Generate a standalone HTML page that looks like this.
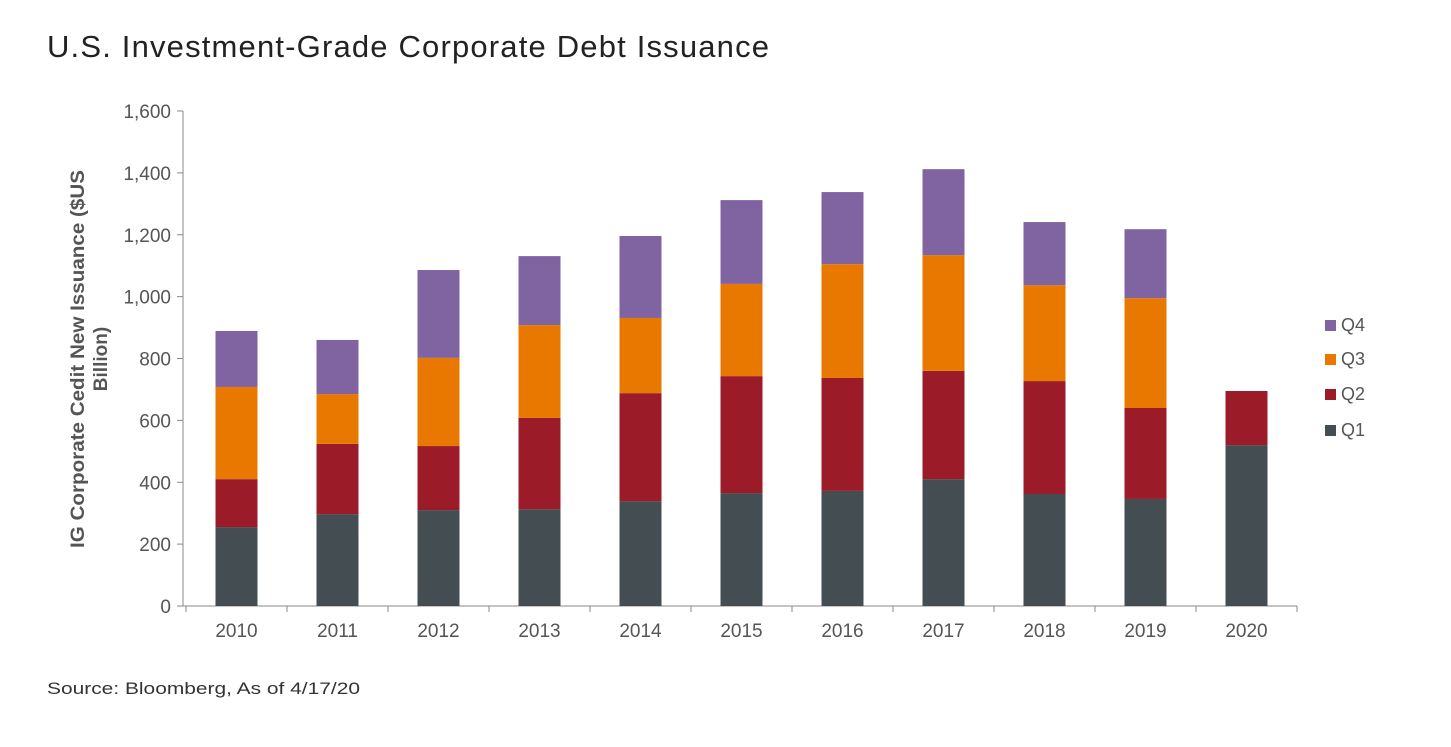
<!DOCTYPE html>
<html><head><meta charset="utf-8"><style>
body{margin:0;background:#fff;width:1451px;height:742px;overflow:hidden;font-family:"Liberation Sans",sans-serif}
</style></head><body>
<svg width="1451" height="742" xmlns="http://www.w3.org/2000/svg">
<text x="47" y="57" font-size="31" fill="#222" textLength="722" lengthAdjust="spacing">U.S. Investment-Grade Corporate Debt Issuance</text>
<text x="47" y="694" font-size="17" fill="#333" textLength="313" lengthAdjust="spacingAndGlyphs">Source: Bloomberg, As of 4/17/20</text>
<g id="plot"></g>
<g id="legend"></g>
</svg>
<script>
const years=["2010","2011","2012","2013","2014","2015","2016","2017","2018","2019","2020"];
const q1=[255,297,310,313,339,365,372,410,362,346,520];
const q2=[155,227,207,295,349,378,365,350,365,294,175];
const q3=[298,161,285,300,243,298,368,374,310,355,0];
const q4=[181,175,284,223,265,271,233,278,204,223,0];
const yTicks=[0,200,400,600,800,1000,1200,1400,1600];
const yTickLabels=["0","200","400","600","800","1,000","1,200","1,400","1,600"];
const series=[{name:"Q1",vals:q1,color:"#434d52"},{name:"Q2",vals:q2,color:"#9b1b28"},{name:"Q3",vals:q3,color:"#e87800"},{name:"Q4",vals:q4,color:"#8064a2"}];
const NS="http://www.w3.org/2000/svg";
const X0=186,X1=1297,Y0=606,Y1=111,YMAX=1600;
const band=(X1-X0)/years.length;
const y=v=>Y0-(v/YMAX)*(Y0-Y1);
const xc=i=>X0+band*(i+0.5);
const plot=document.getElementById('plot');
function mk(tag,attrs,parent){const e=document.createElementNS(NS,tag);for(const k in attrs)e.setAttribute(k,attrs[k]);parent.appendChild(e);return e;}
let ax=mk('line',{x1:X0-3,y1:Y1,x2:X0-3,y2:Y0,stroke:'#888','stroke-width':1},plot);


yTicks.forEach((t,i)=>{
 const tk=mk('line',{x1:X0-9,x2:X0-3,y1:y(t),y2:y(t),stroke:'#888'},plot);
 
 
 const tx=mk('text',{x:X0-15,y:y(t)+7,'text-anchor':'end','font-size':19,fill:'#555'},plot);
 tx.textContent=yTickLabels[i];
 
 
});
const xa=mk('line',{x1:X0-3,x2:X1,y1:Y0,y2:Y0,stroke:'#888'},plot);


for(let i=0;i<=years.length;i++){
 const tk=mk('line',{x1:X0+band*i,x2:X0+band*i,y1:Y0,y2:Y0+6,stroke:'#888'},plot);
 
 
}
years.forEach((yr,i)=>{
 const tx=mk('text',{x:xc(i),y:Y0+31,'text-anchor':'middle','font-size':19,fill:'#555'},plot);
 tx.textContent=yr;
 
 
 let acc=0;
 series.forEach(s=>{
  const v=s.vals[i];
  if(v>0){
   const r=mk('rect',{x:xc(i)-21,width:42,y:y(acc+v),height:y(acc)-y(acc+v),fill:s.color},plot);
   
   
  }
  acc+=v;
 });
});
const yt=mk('text',{transform:'translate(84,359) rotate(-90)','text-anchor':'middle','font-size':19,'font-weight':'bold',fill:'#555'},plot);


const t1=mk('tspan',{x:0,dy:0,textLength:378,lengthAdjust:'spacingAndGlyphs'},yt);t1.textContent="IG Corporate Cedit New Issuance ($US";
const t2=mk('tspan',{x:0,dy:23},yt);t2.textContent="Billion)";
const lg=document.getElementById('legend');
const legendY=[436,400,365,331];
series.forEach((s,i)=>{
 const r=mk('rect',{x:1325,y:legendY[i]-11,width:11,height:11,fill:s.color},lg);
 
 
 const t=mk('text',{x:1341,y:legendY[i],'font-size':18,fill:'#555'},lg);
 t.textContent=s.name;
 
 
});
</script>
</body></html>
